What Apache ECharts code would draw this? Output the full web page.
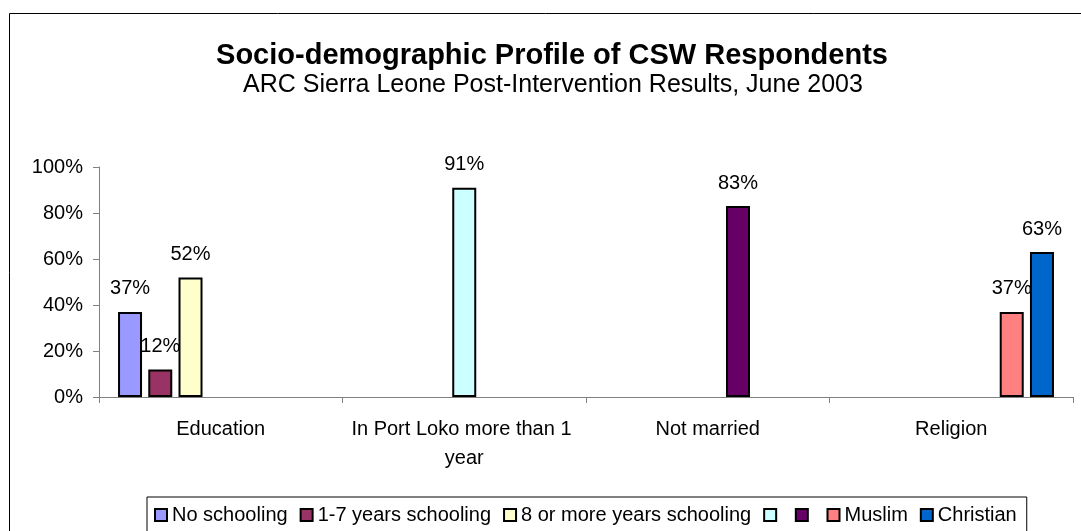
<!DOCTYPE html>
<html>
<head>
<meta charset="utf-8">
<script src="https://cdn.jsdelivr.net/npm/echarts@6/dist/echarts.min.js"></script>
<style>
  html, body { margin: 0; padding: 0; background: #ffffff; }
  #chart { width: 1081px; height: 531px; }
</style>
</head>
<body>
<div id="chart"></div>
<script>
// Categories along the x axis
const categories = ['Education', 'In Port Loko more than 1 year', 'Not married', 'Religion'];

// Each series only has a value in its own category (percent)
const noSchooling    = [37, null, null, null];
const years1to7      = [12, null, null, null];
const years8plus     = [52, null, null, null];
const inPortLoko     = [null, 91, null, null];
const notMarried     = [null, null, 83, null];
const muslim         = [null, null, null, 37];
const christian      = [null, null, null, 63];

// Series names as shown in the legend (two are left unlabelled)
const seriesNames = ['No schooling', '1-7 years schooling', '8 or more years schooling', ' ', '  ', 'Muslim', 'Christian'];
const seriesValues = [noSchooling, years1to7, years8plus, inPortLoko, notMarried, muslim, christian];
const seriesColors = ['#9999FF', '#993366', '#FFFFCC', '#CCFFFF', '#660066', '#FF8080', '#0066CC'];

// Y axis ticks (percent)
const yMin = 0, yMax = 100, yStep = 20;

const FONT = "'Liberation Sans', Arial, Helvetica, sans-serif";

const chart = echarts.init(document.getElementById('chart'), null, { renderer: 'canvas' });

const series = seriesNames.map((name, i) => ({
  name: name,
  type: 'bar',
  data: seriesValues[i],
  barWidth: 24,
  barGap: '26%',
  itemStyle: { color: seriesColors[i], borderColor: '#000000', borderWidth: 2 },
  label: {
    show: true,
    position: 'top',
    distance: 13,
    formatter: '{c}%',
    color: '#000000',
    fontFamily: FONT,
    fontSize: 20
  },
  emphasis: { disabled: true },
  animation: false
}));

chart.setOption({
  animation: false,
  backgroundColor: '#ffffff',
  title: [
    {
      text: 'Socio-demographic Profile of CSW Respondents',
      left: 547,
      top: 36,
      textAlign: 'center',
      textStyle: { fontFamily: FONT, fontSize: 29, fontWeight: 'bold', color: '#000000' }
    },
    {
      text: 'ARC Sierra Leone Post-Intervention Results, June 2003',
      left: 548,
      top: 68,
      textAlign: 'center',
      textStyle: { fontFamily: FONT, fontSize: 25, fontWeight: 'normal', color: '#000000' }
    }
  ],
  graphic: [
    {
      type: 'rect',
      shape: { x: 9.5, y: 13.5, width: 1080, height: 530 },
      style: { fill: null, stroke: '#000000', lineWidth: 1 },
      silent: true
    }
  ],
  legend: {
    data: seriesNames,
    left: 147,
    top: 497,
    padding: [8, 10, 12, 7],
    itemGap: 12,
    itemWidth: 12,
    itemHeight: 12,
    icon: 'rect',
    borderColor: '#000000',
    borderWidth: 1,
    // unlabelled entries keep only a narrow blank after their swatch
    formatter: name => name.trim() || '{blank| }',
    itemStyle: { borderColor: '#000000', borderWidth: 2 },
    textStyle: {
      fontFamily: FONT,
      fontSize: 20,
      color: '#000000',
      rich: { blank: { fontSize: 6 } }
    }
  },
  grid: { left: 99, right: 8, top: 167, bottom: 134, containLabel: false },
  xAxis: {
    type: 'category',
    data: categories,
    axisLine: { lineStyle: { color: '#808080', width: 1 } },
    axisTick: { show: true, length: 6, lineStyle: { color: '#808080' } },
    axisLabel: {
      margin: 18,
      interval: 0,
      width: 230,
      overflow: 'break',
      lineHeight: 29,
      fontFamily: FONT,
      fontSize: 20,
      color: '#000000'
    }
  },
  yAxis: {
    type: 'value',
    min: yMin,
    max: yMax,
    interval: yStep,
    axisLine: { show: true, lineStyle: { color: '#808080', width: 1 } },
    axisTick: { show: true, length: 6, lineStyle: { color: '#808080' } },
    splitLine: { show: false },
    axisLabel: {
      formatter: '{value}%',
      margin: 16,
      fontFamily: FONT,
      fontSize: 20,
      color: '#000000'
    }
  },
  series: series
});
</script>
</body>
</html>
